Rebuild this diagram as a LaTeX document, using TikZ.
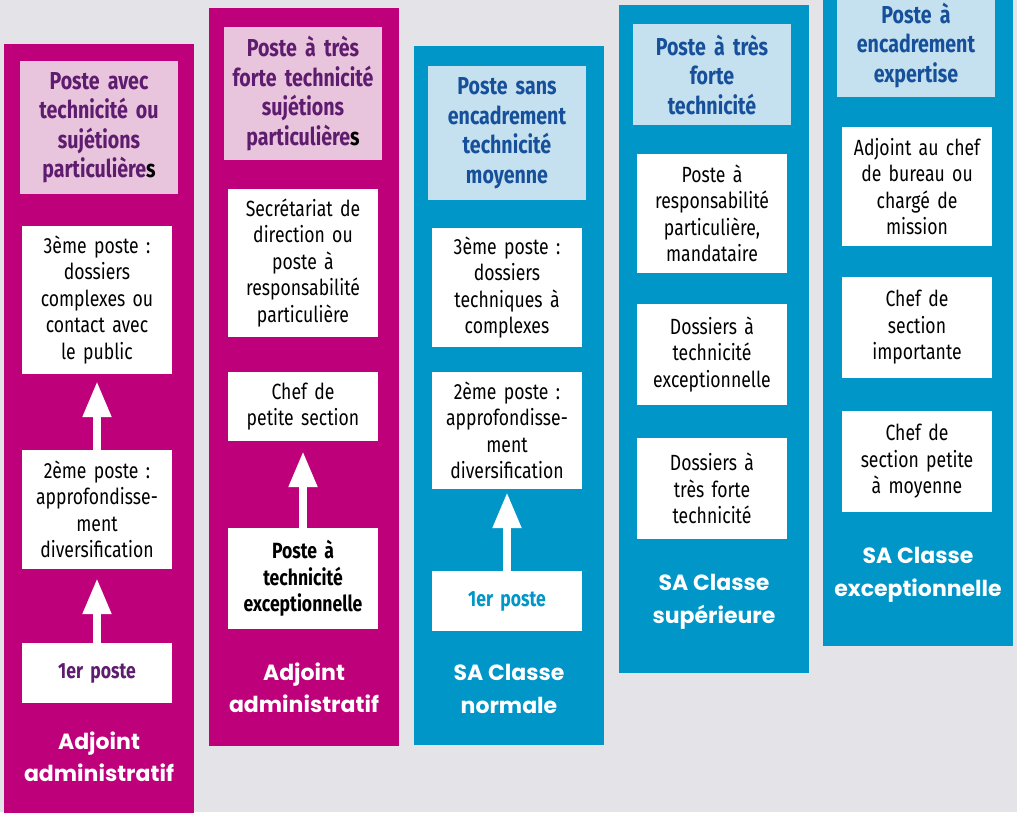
\documentclass[tikz,border=0pt]{standalone}
\usepackage{fontspec}
\usetikzlibrary{arrows.meta}
\newfontfamily\bodyff{Fira Sans}[FakeStretch=0.8]
\newfontfamily\labff{Poppins}
\newcommand\bodyfont{\bodyff\fontsize{22}{26.5}\selectfont}
\newcommand\hdrfont{\bodyff\bfseries\fontsize{24.5}{29.5}\selectfont}
\newcommand\labfont{\labff\bfseries\fontsize{22}{32.5}\selectfont}
\definecolor{mag}{HTML}{BE007A}
\definecolor{pinkbg}{HTML}{E8C4DD}
\definecolor{purp}{HTML}{5E1C6E}
\definecolor{cblue}{HTML}{0096C8}
\definecolor{lbluebg}{HTML}{C5E0EE}
\definecolor{dblue}{HTML}{17509A}
\definecolor{bgray}{HTML}{E4E4E8}
\tikzset{
  hdr/.style={align=center, inner sep=0pt, minimum width=158pt, text width=156pt, font=\hdrfont},
  hdrM/.style={hdr, fill=pinkbg, text=purp},
  hdrB/.style={hdr, fill=lbluebg, text=dblue},
  wbox/.style={fill=white, align=center, inner sep=0pt, minimum width=150pt, text width=146pt, font=\bodyfont, text=black},
  lab/.style={align=center, inner sep=0pt, text=white, font=\labfont},
  uparrow/.style={draw=white, line width=8pt, -{Triangle[width=27pt,length=36pt]}},
}
\begin{document}
\begin{tikzpicture}[x=1pt,y=-1pt]
\useasboundingbox (0,0) rectangle (1017,812);
\fill[bgray] (0,0) rectangle (1017,812);
% columns
\fill[mag] (4,44) rectangle (194,820);
\fill[mag] (209,8) rectangle (399,746);
\fill[cblue] (414,46) rectangle (604,745);
\fill[cblue] (619,5) rectangle (809,673);
\fill[cblue] (823,-10) rectangle (1013,646);
% column 1
\node[hdrM, minimum height=133pt] (h1) at (99,127.5) {Poste avec\\technicité ou\\sujétions\\particulière{\color{black}s}};
\node[wbox, minimum height=148pt] (a1) at (97,300) {3ème poste :\\dossiers\\complexes ou\\contact avec\\le public};
\node[wbox, minimum height=119pt] (a2) at (97,509.5) {2ème poste :\\approfondisse-\\ment\\diversification};
\node[wbox, minimum height=60pt, text=purp, font=\bodyfont\bfseries] (a3) at (97,673) {1er poste};
\node[lab] (l1) at (99,757) {Adjoint\\administratif};
\draw[uparrow, shorten >=7pt] (a2.north) -- (a1.south);
\draw[uparrow, shorten >=9pt] (a3.north) -- (a2.south);
% column 2
\node[hdrM, minimum height=133pt] (h2) at (303,93.5) {Poste à très\\forte technicité\\sujétions\\particulière{\color{black}s}};
\node[wbox, minimum height=148pt] (b1) at (303,263) {Secrétariat de\\direction ou\\poste à\\responsabilité\\particulière};
\node[wbox, minimum height=69pt] (b2) at (303,406.5) {Chef de\\petite section};
\node[wbox, minimum height=101pt, font=\bodyfont\bfseries] (b3) at (303,578.5) {Poste à\\technicité\\exceptionnelle};
\node[lab] (l2) at (304,688) {Adjoint\\administratif};
\draw[uparrow, shorten >=10pt] (b3.north) -- (b2.south);
% column 3
\node[hdrB, minimum height=134pt] (h3) at (507,133) {Poste sans\\encadrement\\technicité\\moyenne};
\node[wbox, minimum height=119pt] (c1) at (507,287.5) {3ème poste :\\dossiers\\techniques à\\complexes};
\node[wbox, minimum height=117pt] (c2) at (507,430.5) {2ème poste :\\approfondisse-\\ment\\diversification};
\node[wbox, minimum height=60pt, text=cblue, font=\bodyfont\bfseries] (c3) at (507,601) {1er poste};
\node[lab] (l3) at (509,689) {SA Classe\\normale};
\draw[uparrow, shorten >=3pt] (c3.north) -- (c2.south);
% column 4
\node[hdrB, minimum height=101pt] (h4) at (712,74.5) {Poste à très\\forte\\technicité};
\node[wbox, minimum height=119pt] (d1) at (712,213.5) {Poste à\\responsabilité\\particulière,\\mandataire};
\node[wbox, minimum height=101pt] (d2) at (712,354.5) {Dossiers à\\technicité\\exceptionnelle};
\node[wbox, minimum height=101pt] (d3) at (712,488.5) {Dossiers à\\très forte\\technicité};
\node[lab] (l4) at (714,602) {SA Classe\\supérieure};
% column 5
\node[hdrB, minimum height=104pt] (h5) at (916,45) {Poste à\\encadrement\\expertise};
\node[wbox, minimum height=119pt] (e1) at (917,186.5) {Adjoint au chef\\de bureau ou\\chargé de\\mission};
\node[wbox, minimum height=101pt] (e2) at (917,327.5) {Chef de\\section\\importante};
\node[wbox, minimum height=101pt] (e3) at (917,461.5) {Chef de\\section petite\\à moyenne};
\node[lab] (l5) at (918,575) {SA Classe\\exceptionnelle};
\end{tikzpicture}
\end{document}
